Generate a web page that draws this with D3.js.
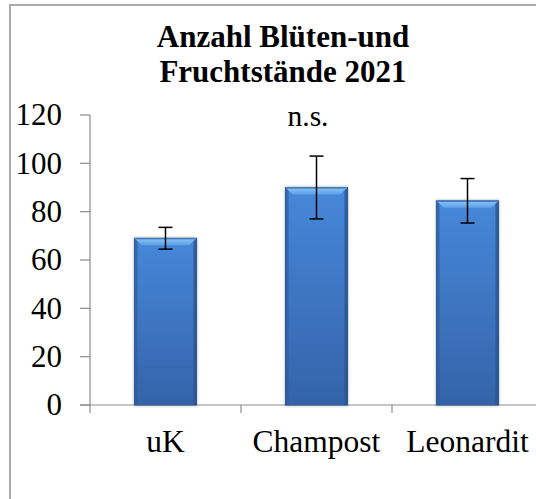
<!DOCTYPE html>
<html>
<head>
<meta charset="utf-8">
<script src="https://cdn.jsdelivr.net/npm/d3@7"></script>
<style>
  html, body { margin: 0; padding: 0; background: #fff; }
  svg { display: block; }
</style>
</head>
<body>
<svg id="chart" width="536" height="499" font-family="'Liberation Serif', 'Times New Roman', Times, serif"></svg>
<script>
const categories = ["uK", "Champost", "Leonardit"];
const values = [69, 90, 84.5];
const errors = [4.5, 13, 9.2];
const yTicks = [0, 20, 40, 60, 80, 100, 120];
const titleLines = ["Anzahl Blüten-und", "Fruchtstände 2021"];
const annotation = "n.s.";

const FONT = "'Liberation Serif', 'Times New Roman', Times, serif";
const svg = d3.select("#chart");
const defs = svg.append("defs");

const g1 = defs.append("linearGradient").attr("id", "barGrad").attr("x1", 0).attr("y1", 0).attr("x2", 0).attr("y2", 1);
g1.append("stop").attr("offset", "0%").attr("stop-color", "#4688da");
g1.append("stop").attr("offset", "100%").attr("stop-color", "#3463a8");
const g2 = defs.append("linearGradient").attr("id", "topGrad").attr("x1", 0).attr("y1", 0).attr("x2", 0).attr("y2", 1);
g2.append("stop").attr("offset", "0%").attr("stop-color", "#8cc6f7");
g2.append("stop").attr("offset", "100%").attr("stop-color", "#5c9fe8");
const fs = defs.append("filter").attr("id", "shadow").attr("x", "-20%").attr("y", "-10%").attr("width", "140%").attr("height", "120%");
fs.append("feGaussianBlur").attr("in", "SourceAlpha").attr("stdDeviation", 1.5);
fs.append("feOffset").attr("dx", 0).attr("dy", 0).attr("result", "b");
fs.append("feComponentTransfer").append("feFuncA").attr("type", "linear").attr("slope", 0.35);
const fm = fs.append("feMerge");
fm.append("feMergeNode");
fm.append("feMergeNode").attr("in", "SourceGraphic");

// frame
svg.append("rect").attr("x", 10).attr("y", 5).attr("width", 700).attr("height", 700)
  .attr("fill", "#fff").attr("stroke", "#aaaaaa").attr("stroke-width", 2);

const x = d3.scaleBand().domain(categories).range([90, 543]).paddingInner(0.59).paddingOuter(0.295);
const y = d3.scaleLinear().domain([0, 120]).range([405, 115]);

// y axis
const yAxis = svg.append("g");
yAxis.append("line").attr("x1", 90).attr("x2", 90).attr("y1", y(120)).attr("y2", y(0)).attr("stroke", "#8c8c8c").attr("stroke-width", 1.2);
yAxis.selectAll("line.tick").data(yTicks).join("line").attr("class", "tick")
  .attr("x1", 80).attr("x2", 90).attr("y1", d => y(d)).attr("y2", d => y(d))
  .attr("stroke", "#8c8c8c").attr("stroke-width", 1.2);
yAxis.selectAll("text").data(yTicks).join("text")
  .attr("x", 62).attr("y", d => y(d)).attr("dy", "0.33em").attr("font-family", FONT)
  .attr("text-anchor", "end").attr("font-size", 31).text(d => d);

// x axis
const step = x.step();
const xAxis = svg.append("g");
xAxis.append("line").attr("x1", 80).attr("x2", 560).attr("y1", y(0)).attr("y2", y(0)).attr("stroke", "#8c8c8c").attr("stroke-width", 1.2);
const bounds = categories.map((c, i) => x(c) - x.paddingInner() * step / 2).concat([x(categories[categories.length - 1]) + x.bandwidth() + x.paddingInner() * step / 2]);
xAxis.selectAll("line.tick").data(bounds).join("line").attr("class", "tick")
  .attr("x1", d => d).attr("x2", d => d).attr("y1", y(0)).attr("y2", y(0) + 8)
  .attr("stroke", "#8c8c8c").attr("stroke-width", 1.2);
xAxis.selectAll("text").data(categories).join("text")
  .attr("x", d => x(d) + x.bandwidth() / 2).attr("y", 452).attr("font-family", FONT)
  .attr("text-anchor", "middle").attr("font-size", 31.5).text(d => d);

// bars
const data = categories.map((c, i) => ({ c, v: values[i], e: errors[i] }));
const bars = svg.append("g").selectAll("g").data(data).join("g");
const bw = x.bandwidth();
bars.append("rect")
  .attr("x", d => x(d.c)).attr("y", d => y(d.v)).attr("width", bw).attr("height", d => y(0) - y(d.v))
  .attr("fill", "url(#barGrad)").attr("stroke", "#2c5894").attr("stroke-width", 1).attr("filter", "url(#shadow)");
bars.append("rect").attr("x", d => x(d.c)).attr("y", d => y(d.v)).attr("width", 3).attr("height", d => y(0) - y(d.v))
  .attr("fill", "#2f5d9c").attr("opacity", 0.7);
bars.append("rect").attr("x", d => x(d.c) + bw - 3).attr("y", d => y(d.v)).attr("width", 3).attr("height", d => y(0) - y(d.v))
  .attr("fill", "#2a5590").attr("opacity", 0.8);
bars.append("path").attr("d", d => {
  const x0 = x(d.c), y0 = y(d.v), b = 7;
  return `M${x0},${y0}L${x0 + bw},${y0}L${x0 + bw - b},${y0 + b}L${x0 + b},${y0 + b}Z`;
}).attr("fill", "url(#topGrad)");
bars.append("line").attr("x1", d => x(d.c) + 1).attr("x2", d => x(d.c) + bw - 1)
  .attr("y1", d => y(d.v) + 0.5).attr("y2", d => y(d.v) + 0.5).attr("stroke", "#2f66b0").attr("stroke-width", 1);

// error bars
const eb = svg.append("g").selectAll("g").data(data).join("g");
const cx = d => x(d.c) + bw / 2;
eb.append("line").attr("x1", cx).attr("x2", cx).attr("y1", d => y(d.v + d.e)).attr("y2", d => y(d.v - d.e))
  .attr("stroke", "#000").attr("stroke-width", 1.5);
eb.append("line").attr("x1", d => cx(d) - 7).attr("x2", d => cx(d) + 7).attr("y1", d => y(d.v + d.e)).attr("y2", d => y(d.v + d.e))
  .attr("stroke", "#000").attr("stroke-width", 1.5);
eb.append("line").attr("x1", d => cx(d) - 7).attr("x2", d => cx(d) + 7).attr("y1", d => y(d.v - d.e)).attr("y2", d => y(d.v - d.e))
  .attr("stroke", "#000").attr("stroke-width", 1.5);

// title
svg.append("g").selectAll("text").data(titleLines).join("text")
  .attr("x", 283).attr("y", (d, i) => 47 + i * 35).attr("font-family", FONT)
  .attr("text-anchor", "middle").attr("font-size", 31).attr("font-weight", "bold").text(d => d);

// annotation
svg.append("text").attr("x", 308).attr("y", 126).attr("font-family", FONT)
  .attr("text-anchor", "middle").attr("font-size", 29.5).text(annotation);
</script>
</body>
</html>
